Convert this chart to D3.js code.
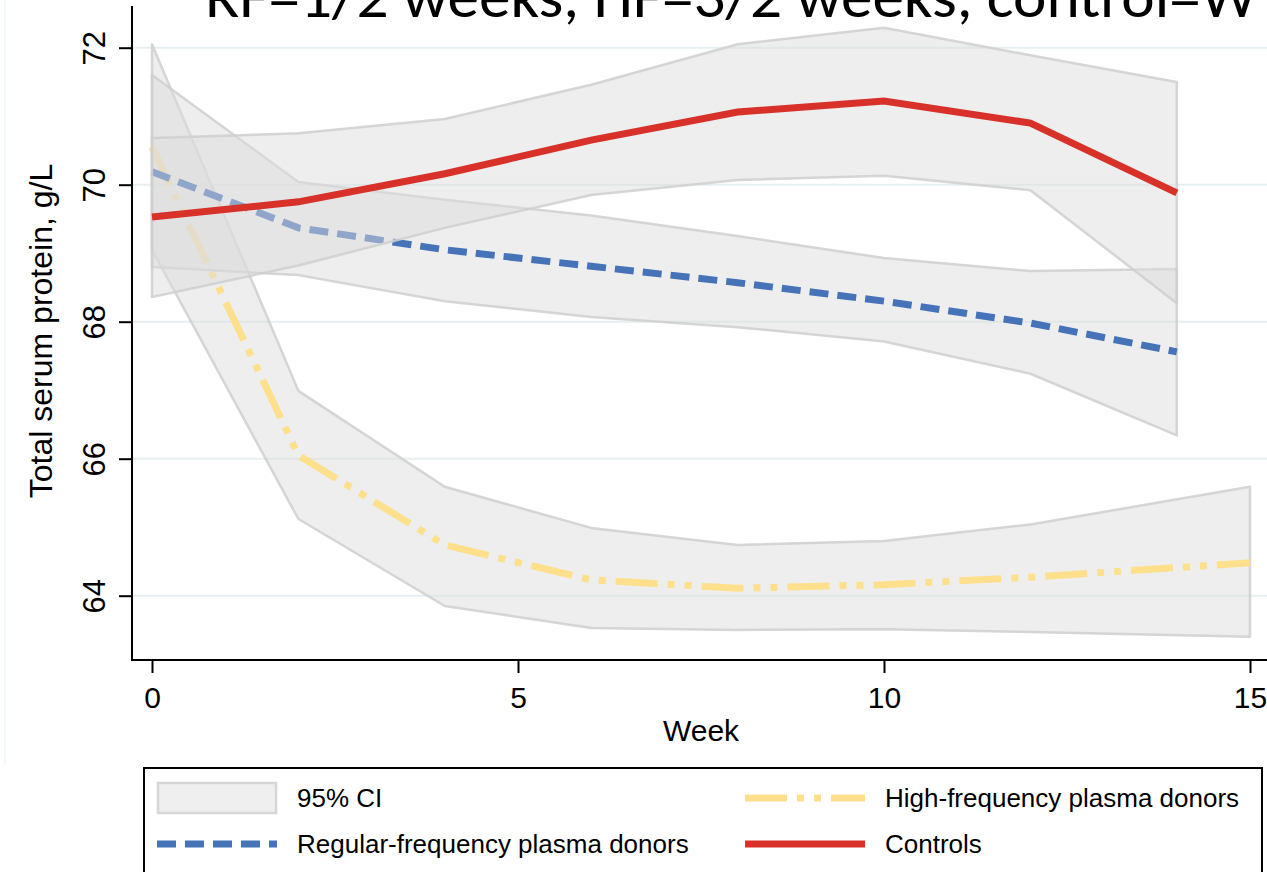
<!DOCTYPE html>
<html>
<head>
<meta charset="utf-8">
<script src="https://cdn.jsdelivr.net/npm/d3@7/dist/d3.min.js"></script>
<style>
    body { margin: 0; background: #fff; overflow: hidden; }
    svg { display: block; font-family: 'Liberation Sans', Arial, Helvetica, sans-serif; }
</style>
</head>
<body>
<div id="chart"></div>
<script>
// weeks of follow-up (HF series runs one week longer)
const weeks = [0, 2, 4, 6, 8, 10, 12, 14];
const hfWeeks = [0, 2, 4, 6, 8, 10, 12, 15];

// high-frequency plasma donors
const hfMean = [70.55, 66.05, 64.74, 64.23, 64.11, 64.16, 64.27, 64.48];
const hfLow = [69.05, 65.12, 63.85, 63.53, 63.50, 63.51, 63.47, 63.40];
const hfHigh = [72.05, 66.99, 65.59, 64.99, 64.74, 64.80, 65.04, 65.59];

// regular-frequency plasma donors
const rfMean = [70.19, 69.37, 69.05, 68.81, 68.57, 68.30, 67.98, 67.56];
const rfLow = [68.80, 68.68, 68.30, 68.07, 67.92, 67.71, 67.24, 66.34];
const rfHigh = [71.60, 70.04, 69.78, 69.55, 69.25, 68.93, 68.74, 68.77];

// controls
const ctrlMean = [69.53, 69.75, 70.16, 70.65, 71.06, 71.22, 70.90, 69.88];
const ctrlLow = [68.36, 68.82, 69.37, 69.85, 70.07, 70.13, 69.92, 68.27];
const ctrlHigh = [70.68, 70.75, 70.96, 71.46, 72.05, 72.29, 71.89, 71.50];

const xTicks = [0, 5, 10, 15];
const yTicks = [64, 66, 68, 70, 72];
const titleText = 'RF=1/2 weeks, HF=3/2 weeks, control=W';
const xLabel = 'Week';
const yLabel = 'Total serum protein, g/L';
const ciLabel = '95% CI';

const width = 1267;
const height = 872;

// series in drawing order (later bands fade the lines below them)
const series = [
    {label: 'High-frequency plasma donors', x: hfWeeks, mean: hfMean, lo: hfLow, hi: hfHigh,
        color: '#fddf8c', dash: '42,10,7,10,7,10'},
    {label: 'Regular-frequency plasma donors', x: weeks, mean: rfMean, lo: rfLow, hi: rfHigh,
        color: '#4672b8', dash: '19,9'},
    {label: 'Controls', x: weeks, mean: ctrlMean, lo: ctrlLow, hi: ctrlHigh,
        color: '#d8312a', dash: null}
];

const svg = d3.select('#chart')
    .append('svg')
    .attr('width', width)
    .attr('height', height);

// scales
const x = d3.scaleLinear().domain([0, 15]).range([152, 1250]);
const y = d3.scaleLinear().domain([64, 72]).range([595.7, 47.7]);

const axisLeftX = 132;
const axisBottomY = 660;

// faint outer border of the graph region
svg.append('line')
    .attr('x1', 5).attr('x2', 5)
    .attr('y1', 0).attr('y2', 765)
    .attr('stroke', '#f1f5f6')
    .attr('stroke-width', 1.5);

// title, clipped at the top of the picture like the source
svg.append('text')
    .attr('x', 205)
    .attr('y', 17)
    .attr('textLength', 1052)
    .attr('lengthAdjust', 'spacingAndGlyphs')
    .style('font-family', "Carlito, 'Liberation Sans Narrow', 'Open Sans', sans-serif")
    .style('font-size', '60px')
    .attr('fill', '#000')
    .text(titleText);

// grid lines
svg.append('g')
    .selectAll('line')
    .data(yTicks)
    .join('line')
    .attr('x1', axisLeftX)
    .attr('x2', width)
    .attr('y1', d => y(d))
    .attr('y2', d => y(d))
    .attr('stroke', '#e6eff1')
    .attr('stroke-width', 2);

// bands and lines
const area = d3.area()
    .x(d => x(d.x))
    .y0(d => y(d.lo))
    .y1(d => y(d.hi));

const line = d3.line()
    .x(d => x(d.x))
    .y(d => y(d.m));

series.forEach(s => {
    const pts = s.x.map((w, i) => ({x: w, m: s.mean[i], lo: s.lo[i], hi: s.hi[i]}));

    svg.append('path')
        .datum(pts)
        .attr('d', area)
        .attr('fill', '#dcdcdc')
        .attr('fill-opacity', 0.49)
        .attr('stroke', '#cfcfcf')
        .attr('stroke-opacity', 0.85)
        .attr('stroke-width', 2.5)
        .attr('stroke-linejoin', 'round');

    svg.append('path')
        .datum(pts)
        .attr('d', line)
        .attr('fill', 'none')
        .attr('stroke', s.color)
        .attr('stroke-width', 7)
        .attr('stroke-dasharray', s.dash);
});

// y axis
const yAxis = svg.append('g')
    .attr('transform', `translate(${axisLeftX},0)`)
    .call(d3.axisLeft(y).tickValues(yTicks).tickSize(13).tickSizeOuter(0).tickFormat(d3.format('d')));
yAxis.select('.domain').remove();
yAxis.selectAll('.tick line').attr('stroke', '#000').attr('stroke-width', 2);
yAxis.selectAll('.tick text')
    .attr('transform', 'rotate(-90)')
    .attr('x', 0)
    .attr('y', -27)
    .attr('dy', 0)
    .attr('text-anchor', 'middle')
    .attr('fill', '#000')
    .style('font-size', '31px');

// x axis
const xAxis = svg.append('g')
    .attr('transform', `translate(0,${axisBottomY})`)
    .call(d3.axisBottom(x).tickValues(xTicks).tickSize(13).tickPadding(14).tickSizeOuter(0));
xAxis.select('.domain').remove();
xAxis.selectAll('.tick line').attr('stroke', '#000').attr('stroke-width', 2);
xAxis.selectAll('.tick text')
    .attr('fill', '#000')
    .style('font-size', '30px');

// axis lines
svg.append('line')
    .attr('x1', axisLeftX).attr('x2', axisLeftX)
    .attr('y1', 6).attr('y2', axisBottomY + 1)
    .attr('stroke', '#000').attr('stroke-width', 2);
svg.append('line')
    .attr('x1', axisLeftX - 1).attr('x2', width)
    .attr('y1', axisBottomY).attr('y2', axisBottomY)
    .attr('stroke', '#000').attr('stroke-width', 2);

// axis titles
svg.append('text')
    .attr('x', 701)
    .attr('y', 741)
    .attr('text-anchor', 'middle')
    .style('font-size', '30px')
    .text(xLabel);

svg.append('text')
    .attr('transform', 'translate(52,331) rotate(-90)')
    .attr('text-anchor', 'middle')
    .style('font-size', '32px')
    .text(yLabel);

// legend
const legend = svg.append('g');
legend.append('rect')
    .attr('x', 144)
    .attr('y', 768)
    .attr('width', 1118)
    .attr('height', 140)
    .attr('fill', '#fff')
    .attr('stroke', '#000')
    .attr('stroke-width', 2);

// legend slots: [column x, row y]
const legendItems = [
    {label: ciLabel, type: 'ci', col: 157, row: 798},
    {label: series[0].label, type: 'line', s: series[0], col: 745, row: 798},
    {label: series[1].label, type: 'line', s: series[1], col: 157, row: 844},
    {label: series[2].label, type: 'line', s: series[2], col: 745, row: 844}
];

const item = legend.selectAll('g')
    .data(legendItems)
    .join('g')
    .attr('transform', d => `translate(${d.col},${d.row})`);

item.filter(d => d.type === 'ci')
    .append('rect')
    .attr('x', 1)
    .attr('y', -15)
    .attr('width', 118)
    .attr('height', 30)
    .attr('fill', '#efefef')
    .attr('stroke', '#d6d6d6')
    .attr('stroke-width', 2.5);

item.filter(d => d.type === 'line')
    .append('line')
    .attr('x1', 0)
    .attr('x2', 120)
    .attr('stroke', d => d.s.color)
    .attr('stroke-width', 7)
    .attr('stroke-dasharray', d => d.s.dash);

item.append('text')
    .attr('x', 140)
    .attr('dy', '0.35em')
    .style('font-size', '26px')
    .text(d => d.label);
</script>
</body>
</html>
